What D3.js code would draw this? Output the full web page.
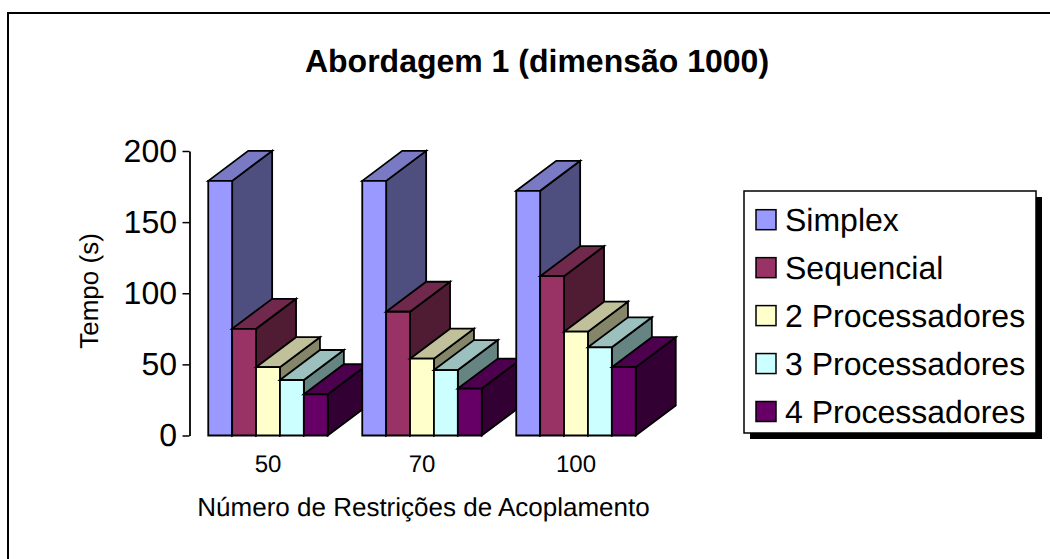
<!DOCTYPE html>
<html><head><meta charset="utf-8">
<script src="https://cdnjs.cloudflare.com/ajax/libs/d3/7.8.5/d3.min.js"></script>
<style>html,body{margin:0;padding:0;background:#fff}svg{display:block}text{font-family:"Liberation Sans",Arial,sans-serif;fill:#000;text-rendering:geometricPrecision}</style>
</head><body><svg id="c" width="1050" height="559"></svg>
<script>
const categories = ["50", "70", "100"];
const seriesNames = ["Simplex", "Sequencial", "2 Processadores", "3 Processadores", "4 Processadores"];
const simplex = [179, 179, 172];
const sequencial = [75, 87, 112];
const proc2 = [48, 54, 73];
const proc3 = [39, 46, 62];
const proc4 = [29, 33, 48];
const yTicks = [0, 50, 100, 150, 200];
const colors = ["#9999ff", "#993366", "#ffffcc", "#ccffff", "#660066"];
const topColors = ["#7a7ac4", "#70284c", "#c0c09a", "#9bc0be", "#4d004d"];
const sideColors = ["#4f4f7f", "#4f1c33", "#85856a", "#668582", "#330033"];
const allValues = [simplex, sequencial, proc2, proc3, proc4];

const svg = d3.select("#c");
const dx = 40, dy = 30;
// the frame shows only its top and left edges
svg.append("line").attr("x1",7).attr("x2",1050).attr("y1",13).attr("y2",13).attr("stroke","#000").attr("stroke-width",2);
svg.append("line").attr("x1",8).attr("x2",8).attr("y1",12).attr("y2",559).attr("stroke","#000").attr("stroke-width",2);

const y = d3.scaleLinear().domain([0,200]).range([435.5,151]);
const x0 = d3.scaleBand().domain(categories).range([191,653]).paddingInner(0.224).paddingOuter(0.112);
const x1 = d3.scaleBand().domain(seriesNames).range([0,x0.bandwidth()]);

categories.forEach((c,ci)=>{
  const g = svg.append("g");
  seriesNames.forEach((s,si)=>{
    const v = allValues[si][ci];
    const l = x0(c)+x1(s), r = l+x1.bandwidth(), t = y(v), b = y(0);
    const line = d3.line();
    const st = {stroke:"#000","stroke-width":1.8,"stroke-linejoin":"miter"};
    const poly = (pts,f)=>{const p=g.append("path").attr("d",line(pts)+"Z").attr("fill",f);Object.entries(st).forEach(([k,val])=>p.attr(k,val));};
    poly([[r,t],[r+dx,t-dy],[r+dx,b-dy],[r,b]], sideColors[si]);
    poly([[l,t],[l+dx,t-dy],[r+dx,t-dy],[r,t]], topColors[si]);
    poly([[l,t],[r,t],[r,b],[l,b]], colors[si]);
  });
});

const ax = svg.append("g").attr("transform","translate(189.5,0)")
  .call(d3.axisLeft(y).tickValues(yTicks).tickSize(7).tickSizeOuter(0).tickPadding(5.5));
ax.select(".domain").attr("stroke","#000").attr("stroke-width",1.8);
ax.selectAll(".tick line").attr("stroke","#000").attr("stroke-width",1.5);
ax.selectAll("text").style("font-size","32px").style("font-family","Liberation Sans").attr("fill","#000");

const axb = svg.append("g").attr("transform","translate(0,455)")
  .call(d3.axisBottom(x0).tickSize(0).tickPadding(0));
axb.select(".domain").remove();
axb.selectAll("text").style("font-size","24px").style("font-family","Liberation Sans").attr("fill","#000").attr("y",17).attr("dy",0);

svg.append("text").attr("x",537).attr("y",72).attr("text-anchor","middle").style("font-size","32px").style("font-weight","bold").text("Abordagem 1 (dimensão 1000)");
svg.append("text").attr("x",423.5).attr("y",516).attr("text-anchor","middle").style("font-size","26px").text("Número de Restrições de Acoplamento");
svg.append("text").attr("transform","translate(98,291) rotate(-90)").attr("text-anchor","middle").style("font-size","26px").text("Tempo (s)");

const lx=744, ly=191, lw=292, lh=242;
svg.append("rect").attr("x",lx+6).attr("y",ly+6).attr("width",lw).attr("height",lh).attr("fill","#000");
svg.append("rect").attr("x",lx).attr("y",ly).attr("width",lw).attr("height",lh).attr("fill","#fff").attr("stroke","#000").attr("stroke-width",1.5);
const ly0 = d3.scalePoint().domain(seriesNames).range([219.7,411.5]);
seriesNames.forEach((s,i)=>{
  svg.append("rect").attr("x",756).attr("y",ly0(s)-10).attr("width",20).attr("height",20).attr("fill",colors[i]).attr("stroke","#000").attr("stroke-width",1.5);
  svg.append("text").attr("x",785).attr("y",ly0(s)+11).style("font-size","32px").text(s);
});
</script></body></html>
